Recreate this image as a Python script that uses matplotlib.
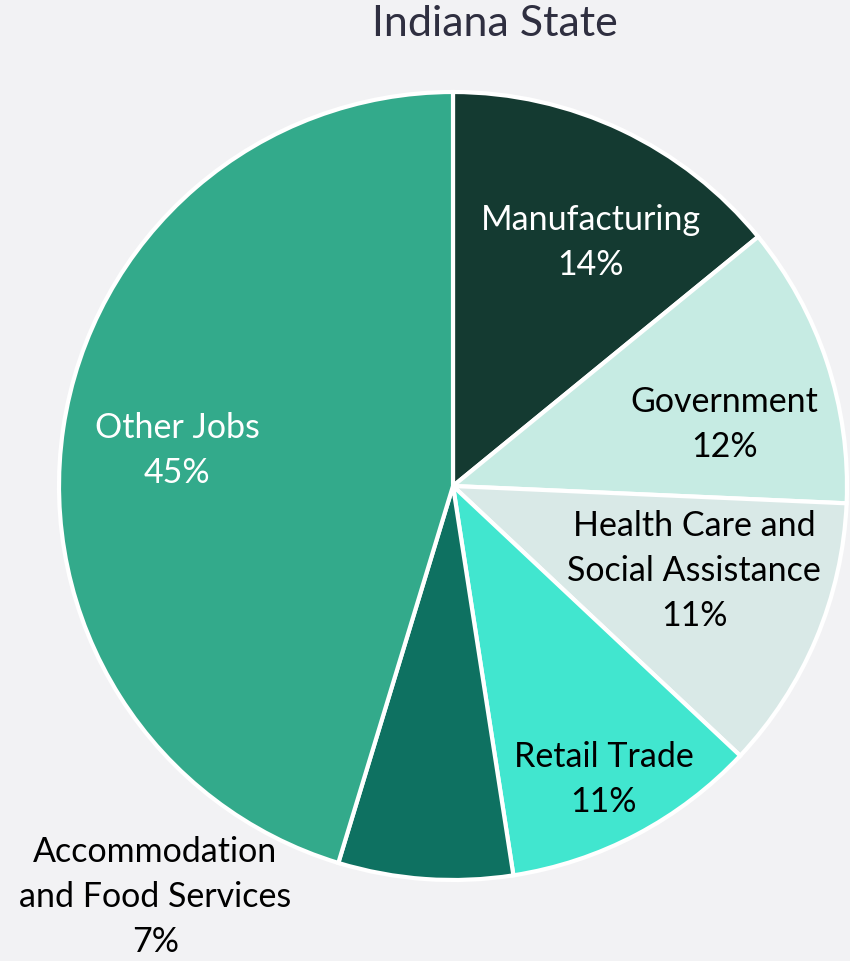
import matplotlib.pyplot as plt

plt.rcParams['font.family'] = ['Lato', 'DejaVu Sans']

# Job shares by sector, in percent, clockwise from 12 o'clock
sectors = ['Manufacturing', 'Government', 'Health Care and\nSocial Assistance',
           'Retail Trade', 'Accommodation\nand Food Services', 'Other Jobs']
shares = [14.1, 11.6, 11.3, 10.55, 7.15, 45.3]
colors = ['#143A31', '#C6EBE3', '#D9E9E7', '#41E6CF', '#0E7161', '#33AA8B']
text_colors = ['white', 'black', 'black', 'black', 'black', 'white']

# label anchor points in pie units (radius = 1)
label_xy = [(0.350, 0.617), (0.688, 0.157), (0.612, -0.216),
            (0.383, -0.746), (-0.756, -1.043), (-0.700, 0.091)]

bg = '#F2F2F4'
fig = plt.figure(figsize=(8.5, 9.61), dpi=100, facecolor=bg)
ax = fig.add_axes([59 / 850, 81 / 961, 788 / 850, 788 / 961])
ax.set_facecolor(bg)

ax.pie(shares, colors=colors, startangle=90, counterclock=False, radius=1,
       wedgeprops=dict(edgecolor='white', linewidth=3))
ax.set_xlim(-1, 1)
ax.set_ylim(-1, 1)
ax.set_aspect('equal')
ax.axis('off')

for name, val, (x, y), tc in zip(sectors, shares, label_xy, text_colors):
    ax.text(x, y, f'{name}\n{val:.0f}%', ha='center', va='center',
            fontsize=24.5, color=tc, linespacing=1.5)

fig.text(495 / 850, 1 - 24 / 961, 'Indiana State', ha='center', va='center',
         fontsize=31, color='#2F2F40')

fig.savefig('out.png', dpi=100, facecolor=bg)
